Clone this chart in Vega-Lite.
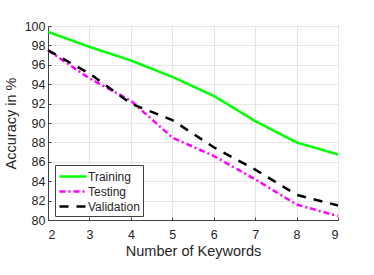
{
  "$schema": "https://vega.github.io/schema/vega-lite/v6.json",
  "width": 290,
  "height": 194,
  "autosize": {"type": "none"},
  "padding": {"left": 48, "top": 26, "right": 36, "bottom": 55},
  "background": "white",
  "config": {
    "font": "Liberation Sans",
    "view": {"stroke": "#404040", "strokeWidth": 1},
    "axis": {
      "labelFont": "Liberation Sans",
      "titleFont": "Liberation Sans",
      "labelColor": "#262626",
      "titleColor": "#262626",
      "labelFontSize": 12.5,
      "titleFontSize": 14.5,
      "titleFontWeight": "normal",
      "gridColor": "#e5e5e5",
      "domainColor": "#404040",
      "tickColor": "#404040",
      "tickSize": -3
    }
  },
  "data": {
    "values": [
      {"k": 2, "acc": 99.4, "set": "Training"},
      {"k": 3, "acc": 97.85, "set": "Training"},
      {"k": 4, "acc": 96.45, "set": "Training"},
      {"k": 5, "acc": 94.75, "set": "Training"},
      {"k": 6, "acc": 92.8, "set": "Training"},
      {"k": 7, "acc": 90.2, "set": "Training"},
      {"k": 8, "acc": 88.0, "set": "Training"},
      {"k": 9, "acc": 86.75, "set": "Training"},
      {"k": 2, "acc": 97.5, "set": "Testing"},
      {"k": 3, "acc": 94.6, "set": "Testing"},
      {"k": 4, "acc": 92.3, "set": "Testing"},
      {"k": 5, "acc": 88.5, "set": "Testing"},
      {"k": 6, "acc": 86.6, "set": "Testing"},
      {"k": 7, "acc": 84.2, "set": "Testing"},
      {"k": 8, "acc": 81.6, "set": "Testing"},
      {"k": 9, "acc": 80.4, "set": "Testing"},
      {"k": 2, "acc": 97.5, "set": "Validation"},
      {"k": 3, "acc": 95.1, "set": "Validation"},
      {"k": 4, "acc": 92.0, "set": "Validation"},
      {"k": 5, "acc": 90.3, "set": "Validation"},
      {"k": 6, "acc": 87.5, "set": "Validation"},
      {"k": 7, "acc": 85.2, "set": "Validation"},
      {"k": 8, "acc": 82.6, "set": "Validation"},
      {"k": 9, "acc": 81.5, "set": "Validation"}
    ]
  },
  "mark": {"type": "line", "strokeWidth": 2.5},
  "encoding": {
    "x": {
      "field": "k", "type": "quantitative",
      "scale": {"domain": [2, 9], "nice": false},
      "axis": {"values": [2,3,4,5,6,7,8,9], "title": "Number of Keywords", "labelPadding": 11, "titlePadding": 4, "grid": true}
    },
    "y": {
      "field": "acc", "type": "quantitative",
      "scale": {"domain": [80, 100], "nice": false, "zero": false},
      "axis": {"values": [80,82,84,86,88,90,92,94,96,98,100], "title": "Accuracy in %", "labelPadding": 6, "titlePadding": 6, "grid": true}
    },
    "color": {
      "field": "set", "type": "nominal",
      "scale": {"domain": ["Training", "Testing", "Validation"], "range": ["#00ff00", "#ff00ff", "#000000"]},
      "legend": {
        "title": null,
        "orient": "none",
        "legendX": 7,
        "legendY": 139,
        "padding": 3,
        "strokeColor": "#404040",
        "fillColor": "white",
        "symbolType": "M-1,0H2.86",
        "symbolSize": 196,
        "symbolStrokeWidth": 2.5,
        "labelFontSize": 12,
        "labelColor": "#262626",
        "labelOffset": 13,
        "rowPadding": -1
      }
    },
    "strokeDash": {
      "field": "set", "type": "nominal",
      "scale": {"domain": ["Training", "Testing", "Validation"], "range": [[1, 0], [6, 3, 2, 3], [9, 8]]},
      "legend": null
    }
  }
}
